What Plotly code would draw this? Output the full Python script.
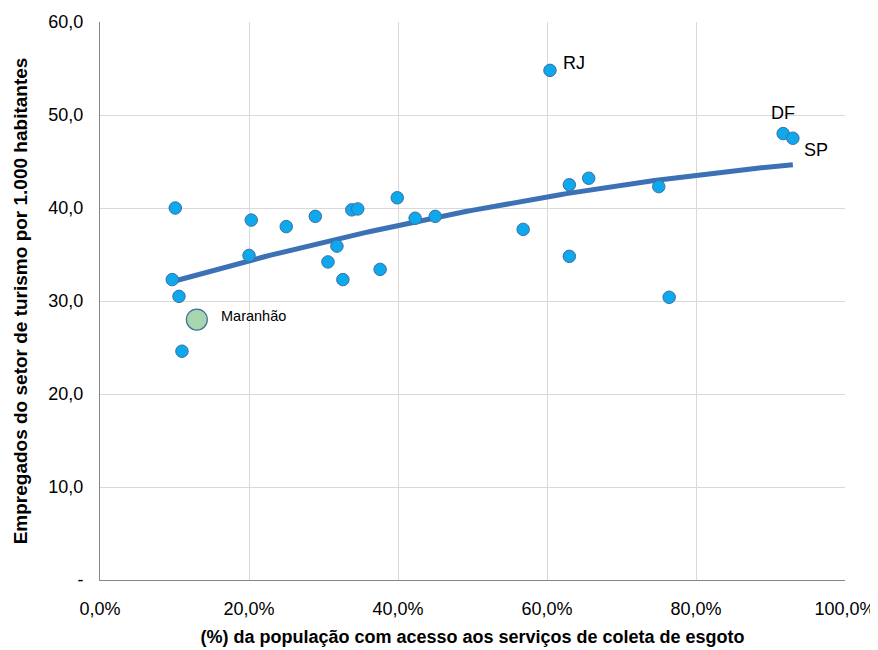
import numpy as np
import plotly.graph_objects as go

# Data (% population with sewage collection, tourism employees per 1,000 inhabitants)
x_vals = [10.1, 9.7, 10.6, 11.0, 20.3, 20.0, 25.0, 28.9, 30.6, 31.8, 32.6, 33.8, 34.6,
          37.6, 39.9, 42.3, 45.0, 60.4, 56.8, 63.0, 63.0, 65.6, 75.0, 76.4, 91.7, 93.0]
y_vals = [40.0, 32.3, 30.5, 24.6, 38.7, 34.9, 38.0, 39.1, 34.2, 35.9, 32.3, 39.8, 39.9,
          33.4, 41.1, 38.9, 39.1, 54.8, 37.7, 42.5, 34.8, 43.2, 42.3, 30.4, 48.0, 47.5]
state_labels = ["", "", "", "", "", "", "", "", "", "", "", "", "",
                "", "", "", "", "RJ", "", "", "", "", "", "", "DF", "SP"]

ma_x = [13.0]
ma_y = [28.0]
ma_label = ["Maranhão"]

x_ticks = [0, 20, 40, 60, 80, 100]
x_ticktext = ["0,0%", "20,0%", "40,0%", "60,0%", "80,0%", "100,0%"]
y_ticks = [0, 10, 20, 30, 40, 50, 60]
y_ticktext = ["-", "10,0", "20,0", "30,0", "40,0", "50,0", "60,0"]

FONT = "Liberation Sans, Arial, sans-serif"

# Trendline (polynomial fit of the data)
all_x = np.array(x_vals + ma_x)
all_y = np.array(y_vals + ma_y)
coef = np.polyfit(all_x, all_y, 2)
tx = np.linspace(all_x.min() - 0.3, all_x.max(), 100)
ty = np.polyval(coef, tx)

fig = go.Figure()
fig.add_trace(go.Scatter(
    x=tx, y=ty, mode="lines",
    line=dict(color="#3C72B5", width=5), hoverinfo="skip", showlegend=False))
fig.add_trace(go.Scatter(
    x=x_vals, y=y_vals, mode="markers",
    marker=dict(size=12.5, color="#0EA8EC", line=dict(color="#3F6F9F", width=1)),
    showlegend=False))
fig.add_trace(go.Scatter(
    x=ma_x, y=ma_y, mode="markers",
    marker=dict(size=21, color="#A6D5AE", line=dict(color="#41709C", width=1.2)),
    showlegend=False))

shifts = {"RJ": (24, 7), "DF": (0, 21), "SP": (23, -12)}
for xv, yv, lab in zip(x_vals, y_vals, state_labels):
    if lab:
        dx, dy = shifts[lab]
        fig.add_annotation(x=xv, y=yv, text=lab, showarrow=False, xshift=dx, yshift=dy,
                           xanchor="center", font=dict(family=FONT, size=18, color="#000000"))
for xv, yv, lab in zip(ma_x, ma_y, ma_label):
    fig.add_annotation(x=xv, y=yv, text=lab, showarrow=False, xshift=22, yshift=4,
                       xanchor="left", font=dict(family=FONT, size=14.5, color="#000000"))

# page body has an 8px margin; size the figure so the plot area lands where the reference has it
fig.update_layout(
    width=870, height=642,
    margin=dict(l=92, r=33, t=14, b=70),
    paper_bgcolor="white", plot_bgcolor="white",
    font=dict(family=FONT, size=18, color="#000000"),
)
fig.update_xaxes(
    range=[0, 100], tickvals=x_ticks, ticktext=x_ticktext,
    showgrid=True, gridcolor="#D9D9D9", gridwidth=1,
    showline=True, linecolor="#868686", linewidth=1,
    zeroline=False, ticks="", ticklen=0, automargin=False,
    ticklabelstandoff=12, ticklabeloverflow="allow",
    tickfont=dict(family=FONT, size=18),
    title=dict(text="<b>(%) da população com acesso aos serviços de coleta de esgoto</b>",
               font=dict(family=FONT, size=18), standoff=12),
)
fig.update_yaxes(
    range=[0, 60], tickvals=y_ticks, ticktext=y_ticktext,
    showgrid=True, gridcolor="#D9D9D9", gridwidth=1,
    showline=True, linecolor="#868686", linewidth=1,
    zeroline=False, ticks="", ticklen=0, automargin=False,
    ticklabelstandoff=12,
    tickfont=dict(family=FONT, size=18),
    title=dict(text="<b>Empregados do setor de turismo por 1.000 habitantes</b>",
               font=dict(family=FONT, size=19), standoff=15),
)

fig.write_html("out.html")
